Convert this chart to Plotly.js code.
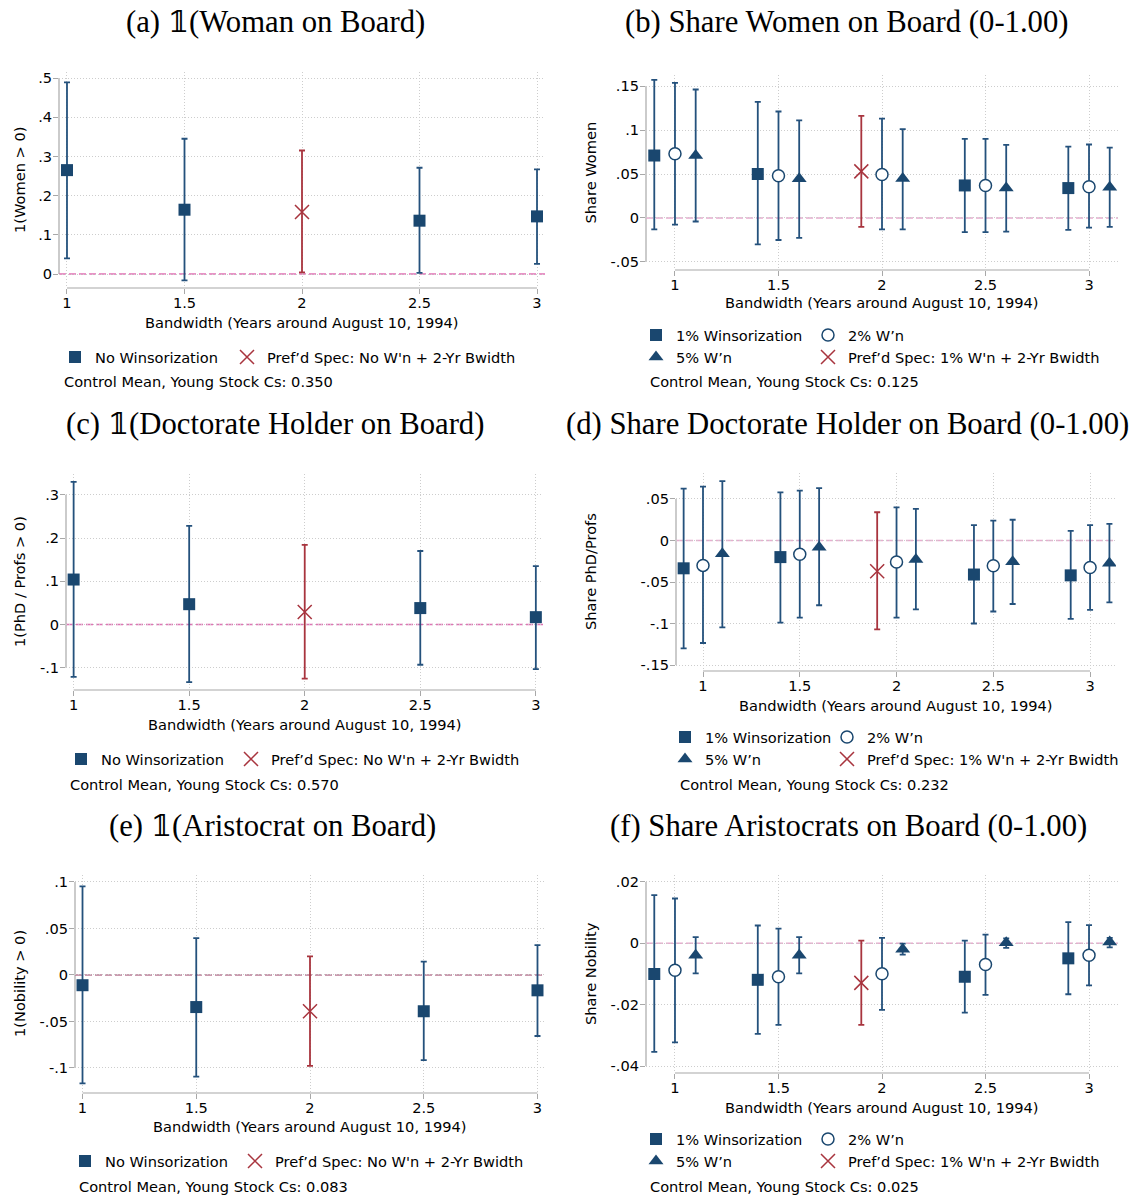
<!DOCTYPE html>
<html><head><meta charset="utf-8">
<script src="https://cdn.plot.ly/plotly-3.0.1.min.js"></script>
<style>html,body{margin:0;padding:0;background:#fff}#chart{width:1129px;height:1199px}</style>
</head><body><div id="chart"></div>
<script>
// ---------------- DATA ----------------
const xTickVals = [1, 1.5, 2, 2.5, 3];
const xTickText = ["1", "1.5", "2", "2.5", "3"];
const xTitle = "Bandwidth (Years around August 10, 1994)";

// x positions of the specifications
const xNoW = [1, 1.5, 2.5, 3];
const xPrefNoW = [2];
const xW1 = [0.9, 1.4, 2.4, 2.9];
const xPrefW1 = [1.9];
const xW2 = [1, 1.5, 2, 2.5, 3];
const xW5 = [1.1, 1.6, 2.1, 2.6, 3.1];

// (a) 1(Woman on Board)
const aYTicks = [0, 0.1, 0.2, 0.3, 0.4, 0.5];
const aYTickText = ["0", ".1", ".2", ".3", ".4", ".5"];
const aNoW = [0.265, 0.164, 0.136, 0.147];
const aNoWLo = [0.040, -0.016, 0.003, 0.026];
const aNoWHi = [0.489, 0.345, 0.271, 0.267];
const aPref = [0.158];
const aPrefLo = [0.004];
const aPrefHi = [0.315];

// (b) Share Women on Board
const bYTicks = [-0.05, 0, 0.05, 0.1, 0.15];
const bYTickText = ["-.05", "0", ".05", ".1", ".15"];
const bW1 = [0.071, 0.050, 0.037, 0.034];
const bW1Lo = [-0.013, -0.030, -0.016, -0.0135];
const bW1Hi = [0.157, 0.132, 0.090, 0.081];
const bPref = [0.053];
const bPrefLo = [-0.010];
const bPrefHi = [0.116];
const bW2 = [0.073, 0.048, 0.0495, 0.037, 0.0355];
const bW2Lo = [-0.0075, -0.025, -0.013, -0.016, -0.011];
const bW2Hi = [0.1535, 0.121, 0.113, 0.090, 0.0835];
const bW5 = [0.071, 0.0445, 0.0450, 0.034, 0.035];
const bW5Lo = [-0.004, -0.0225, -0.013, -0.0155, -0.010];
const bW5Hi = [0.146, 0.111, 0.101, 0.083, 0.080];

// (c) 1(Doctorate Holder on Board)
const cYTicks = [-0.1, 0, 0.1, 0.2, 0.3];
const cYTickText = ["-.1", "0", ".1", ".2", ".3"];
const cNoW = [0.104, 0.047, 0.038, 0.017];
const cNoWLo = [-0.121, -0.133, -0.093, -0.103];
const cNoWHi = [0.330, 0.228, 0.170, 0.135];
const cPref = [0.029];
const cPrefLo = [-0.125];
const cPrefHi = [0.184];

// (d) Share Doctorate Holder on Board
const dYTicks = [-0.15, -0.1, -0.05, 0, 0.05];
const dYTickText = ["-.15", "-.1", "-.05", "0", ".05"];
const dW1 = [-0.0335, -0.020, -0.041, -0.042];
const dW1Lo = [-0.130, -0.099, -0.100, -0.0945];
const dW1Hi = [0.0625, 0.058, 0.0185, 0.0115];
const dPref = [-0.037];
const dPrefLo = [-0.107];
const dPrefHi = [0.034];
const dW2 = [-0.030, -0.0165, -0.026, -0.0305, -0.0325];
const dW2Lo = [-0.1235, -0.093, -0.093, -0.0855, -0.0835];
const dW2Hi = [0.0648, 0.060, 0.040, 0.024, 0.0185];
const dW5 = [-0.016, -0.008, -0.023, -0.0255, -0.0275];
const dW5Lo = [-0.1046, -0.078, -0.083, -0.0765, -0.0745];
const dW5Hi = [0.0716, 0.063, 0.038, 0.025, 0.020];

// (e) 1(Aristocrat on Board)
const eYTicks = [-0.1, -0.05, 0, 0.05, 0.1];
const eYTickText = ["-.1", "-.05", "0", ".05", ".1"];
const eNoW = [-0.011, -0.0345, -0.039, -0.0165];
const eNoWLo = [-0.1166, -0.1094, -0.0916, -0.0656];
const eNoWHi = [0.0952, 0.0396, 0.0143, 0.032];
const ePref = [-0.039];
const ePrefLo = [-0.0977];
const ePrefHi = [0.020];

// (f) Share Aristocrats on Board
const fYTicks = [-0.04, -0.02, 0, 0.02];
const fYTickText = ["-.04", "-.02", "0", ".02"];
const fW1 = [-0.0100, -0.0119, -0.0109, -0.0049];
const fW1Lo = [-0.0354, -0.0295, -0.0226, -0.0166];
const fW1Hi = [0.0157, 0.0058, 0.0009, 0.0069];
const fPref = [-0.0129];
const fPrefLo = [-0.0266];
const fPrefHi = [0.0009];
const fW2 = [-0.0088, -0.0109, -0.0099, -0.0069, -0.0039];
const fW2Lo = [-0.0323, -0.0266, -0.0217, -0.0168, -0.0137];
const fW2Hi = [0.0146, 0.0048, 0.0018, 0.0028, 0.0059];
const fW5 = [-0.0039, -0.0039, -0.0019, 0.0002, 0.0004];
const fW5Lo = [-0.0098, -0.0098, -0.0037, -0.0015, -0.0013];
const fW5Hi = [0.0020, 0.0020, -0.0001, 0.0016, 0.0018];

const refLine = 0;

// labels
const nameNoW = "No Winsorization";
const namePrefNoW = "Pref’d Spec: No W'n + 2-Yr Bwidth";
const nameW1 = "1% Winsorization";
const nameW2 = "2% W’n";
const nameW5 = "5% W’n";
const namePrefW1 = "Pref’d Spec: 1% W'n + 2-Yr Bwidth";

// ---------------- STYLE / GEOMETRY ----------------
const W = 1129, H = 1199;
const NAVY = '#1a476f', BAR = '#24517c', RED = '#a8343e', AXIS = '#a8a8a8', GRID = '#cdcdcd';
const SANS = 'DejaVu Sans, Verdana, sans-serif';
const SERIF = 'Liberation Serif, DejaVu Serif, serif';
const FS = 14.6;
const SYM_OFF = 20;          // legend symbol centre offset from legend box left
const COL_SHIFT = [5, 1];    // leftward shift per key column (balances symbol/text gap)

const markerStyles = {
  sq: {symbol: 'square', size: 12, color: NAVY, line: {width: 0}},
  ci: {symbol: 'circle', size: 12, color: '#ffffff', line: {color: NAVY, width: 1.5}},
  tr: {symbol: 'triangle-up', size: 13, color: NAVY, line: {width: 0}},
  x:  {symbol: 'x-thin', size: 14, color: RED, line: {color: RED, width: 1.5}}
};

const panels = [
  {title: '(a) 𝟙(Woman on Board)', tx: 275, ty: 22, ytitle: '1(Women > 0)', ytx: 19,
   box: {l: 59, r: 545, t: 72, b: 288}, xr: [0.966, 3.034], yr: [-0.0357, 0.5153],
   yt: aYTicks, ytt: aYTickText, zero: '#df72b4', xtY: 321,
   series: [
     {name: nameNoW, kind: 'sq', x: xNoW, y: aNoW, lo: aNoWLo, hi: aNoWHi, col: 0, row: 0},
     {name: namePrefNoW, kind: 'x', x: xPrefNoW, y: aPref, lo: aPrefLo, hi: aPrefHi, col: 1, row: 0}],
   legRows: [357], legX: 80, legSp: 168, ctrl: 'Control Mean, Young Stock Cs: 0.350', cx: 62, cy: 382},
  {title: '(b) Share Women on Board (0-1.00)', tx: 847, ty: 22, ytitle: 'Share Women', ytx: 590,
   box: {l: 646, r: 1118, t: 75, b: 270}, xr: [0.86, 3.14], yr: [-0.0591, 0.1625],
   yt: bYTicks, ytt: bYTickText, zero: '#e6acce', xtY: 302,
   series: [
     {name: nameW1, kind: 'sq', x: xW1, y: bW1, lo: bW1Lo, hi: bW1Hi, col: 0, row: 0},
     {name: nameW2, kind: 'ci', x: xW2, y: bW2, lo: bW2Lo, hi: bW2Hi, col: 1, row: 0},
     {name: nameW5, kind: 'tr', x: xW5, y: bW5, lo: bW5Lo, hi: bW5Hi, col: 0, row: 1},
     {name: namePrefW1, kind: 'x', x: xPrefW1, y: bPref, lo: bPrefLo, hi: bPrefHi, col: 1, row: 1}],
   legRows: [335, 357], legX: 661, legSp: 168, ctrl: 'Control Mean, Young Stock Cs: 0.125', cx: 648, cy: 382},
  {title: '(c) 𝟙(Doctorate Holder on Board)', tx: 275, ty: 424, ytitle: '1(PhD / Profs > 0)', ytx: 19,
   box: {l: 66, r: 543, t: 474, b: 690}, xr: [0.967, 3.031], yr: [-0.1514, 0.348],
   yt: cYTicks, ytt: cYTickText, zero: '#df72b4', xtY: 723,
   series: [
     {name: nameNoW, kind: 'sq', x: xNoW, y: cNoW, lo: cNoWLo, hi: cNoWHi, col: 0, row: 0},
     {name: namePrefNoW, kind: 'x', x: xPrefNoW, y: cPref, lo: cPrefLo, hi: cPrefHi, col: 1, row: 0}],
   legRows: [759], legX: 86, legSp: 166, ctrl: 'Control Mean, Young Stock Cs: 0.570', cx: 68, cy: 784},
  {title: '(d) Share Doctorate Holder on Board (0-1.00)', tx: 847, ty: 424, ytitle: 'Share PhD/Profs', ytx: 590,
   box: {l: 676, r: 1116, t: 473, b: 671}, xr: [0.8605, 3.134], yr: [-0.1572, 0.0813],
   yt: dYTicks, ytt: dYTickText, zero: '#e6acce', xtY: 704,
   series: [
     {name: nameW1, kind: 'sq', x: xW1, y: dW1, lo: dW1Lo, hi: dW1Hi, col: 0, row: 0},
     {name: nameW2, kind: 'ci', x: xW2, y: dW2, lo: dW2Lo, hi: dW2Hi, col: 1, row: 0},
     {name: nameW5, kind: 'tr', x: xW5, y: dW5, lo: dW5Lo, hi: dW5Hi, col: 0, row: 1},
     {name: namePrefW1, kind: 'x', x: xPrefW1, y: dPref, lo: dPrefLo, hi: dPrefHi, col: 1, row: 1}],
   legRows: [737, 759], legX: 690, legSp: 158, ctrl: 'Control Mean, Young Stock Cs: 0.232', cx: 678, cy: 784},
  {title: '(e) 𝟙(Aristocrat on Board)', tx: 272, ty: 826, ytitle: '1(Nobility > 0)', ytx: 19,
   box: {l: 75, r: 545, t: 875, b: 1093}, xr: [0.967, 3.033], yr: [-0.1269, 0.1075],
   yt: eYTicks, ytt: eYTickText, zero: '#b97b95', xtY: 1125,
   series: [
     {name: nameNoW, kind: 'sq', x: xNoW, y: eNoW, lo: eNoWLo, hi: eNoWHi, col: 0, row: 0},
     {name: namePrefNoW, kind: 'x', x: xPrefNoW, y: ePref, lo: ePrefLo, hi: ePrefHi, col: 1, row: 0}],
   legRows: [1161], legX: 90, legSp: 166, ctrl: 'Control Mean, Young Stock Cs: 0.083', cx: 77, cy: 1186},
  {title: '(f) Share Aristocrats on Board (0-1.00)', tx: 848, ty: 826, ytitle: 'Share Nobility', ytx: 590,
   box: {l: 646, r: 1118, t: 875, b: 1073}, xr: [0.86, 3.14], yr: [-0.04225, 0.02225],
   yt: fYTicks, ytt: fYTickText, zero: '#e6acce', xtY: 1106,
   series: [
     {name: nameW1, kind: 'sq', x: xW1, y: fW1, lo: fW1Lo, hi: fW1Hi, col: 0, row: 0},
     {name: nameW2, kind: 'ci', x: xW2, y: fW2, lo: fW2Lo, hi: fW2Hi, col: 1, row: 0},
     {name: nameW5, kind: 'tr', x: xW5, y: fW5, lo: fW5Lo, hi: fW5Hi, col: 0, row: 1},
     {name: namePrefW1, kind: 'x', x: xPrefW1, y: fPref, lo: fPrefLo, hi: fPrefHi, col: 1, row: 1}],
   legRows: [1139, 1161], legX: 661, legSp: 168, ctrl: 'Control Mean, Young Stock Cs: 0.025', cx: 648, cy: 1186}
];

// ---------------- BUILD ----------------
const data = [];
const layout = {
  width: W, height: H, margin: {l: 0, r: 0, t: 0, b: 0},
  paper_bgcolor: '#ffffff', plot_bgcolor: '#ffffff',
  font: {family: SANS, size: FS, color: '#000'},
  shapes: [], annotations: [], showlegend: true
};
let legendCount = 0;
const fx = px => px / W;
const fy = py => 1 - py / H;

panels.forEach((p, i) => {
  const n = i + 1;
  const xa = n === 1 ? 'x' : 'x' + n;
  const ya = n === 1 ? 'y' : 'y' + n;
  const xKey = n === 1 ? 'xaxis' : 'xaxis' + n;
  const yKey = n === 1 ? 'yaxis' : 'yaxis' + n;

  const axCommon = {
    autorange: false, tickmode: 'array',
    ticks: 'outside', ticklen: 5, tickwidth: 1, tickcolor: AXIS,
    showline: false, zeroline: false, showgrid: true, gridcolor: GRID, gridwidth: 1, griddash: '1px,2px',
    tickfont: {family: SANS, size: FS, color: '#000'}, fixedrange: true
  };
  layout[xKey] = Object.assign({}, axCommon, {
    domain: [fx(p.box.l), fx(p.box.r)], anchor: ya, range: p.xr,
    tickvals: xTickVals, ticktext: xTickText, ticklabelstandoff: -4});
  layout[yKey] = Object.assign({}, axCommon, {
    domain: [fy(p.box.b), fy(p.box.t)], anchor: xa, range: p.yr,
    tickvals: p.yt, ticktext: p.ytt, ticklabelstandoff: -2});

  // axis lines spanning the tick range (Stata style)
  layout.shapes.push({type: 'line', layer: 'below', xref: xa, yref: ya + ' domain',
    x0: xTickVals[0], x1: xTickVals[xTickVals.length - 1], y0: 0, y1: 0,
    line: {color: AXIS, width: 1.2}});
  layout.shapes.push({type: 'line', layer: 'below', xref: xa + ' domain', yref: ya,
    x0: 0, x1: 0, y0: p.yt[0], y1: p.yt[p.yt.length - 1],
    line: {color: AXIS, width: 1.2}});
  // reference line at zero
  layout.shapes.push({type: 'line', layer: 'below', xref: xa + ' domain', yref: ya,
    x0: 0, x1: 1, y0: refLine, y1: refLine,
    line: {color: p.zero, width: 1.5, dash: '7px,3px'}});

  p.series.forEach(s => {
    // one legend per entry so that the 2x2 key grid aligns exactly
    legendCount += 1;
    const id = legendCount === 1 ? 'legend' : 'legend' + legendCount;
    layout[id] = {
      x: fx(p.legX + s.col * p.legSp - SYM_OFF - COL_SHIFT[s.col]), y: fy(p.legRows[s.row]),
      xref: 'paper', yref: 'paper', xanchor: 'left', yanchor: 'middle', orientation: 'h',
      bgcolor: 'rgba(0,0,0,0)', borderwidth: 0,
      font: {family: SANS, size: FS, color: '#000'},
      itemwidth: 30, itemclick: false, itemdoubleclick: false
    };
    const col = s.kind === 'x' ? RED : BAR;
    data.push({
      type: 'scatter', mode: 'markers', name: s.name,
      x: s.x, y: s.y, xaxis: xa, yaxis: ya,
      legend: id, showlegend: true,
      marker: markerStyles[s.kind],
      error_y: {type: 'data', symmetric: false,
        array: s.hi.map((h, k) => h - s.y[k]),
        arrayminus: s.y.map((v, k) => v - s.lo[k]),
        color: col, thickness: 1.8, width: 3},
      hoverinfo: 'skip'
    });
  });

  // panel title
  layout.annotations.push({text: p.title, xref: 'paper', yref: 'paper', x: fx(p.tx), y: fy(p.ty),
    xanchor: 'center', yanchor: 'middle', showarrow: false,
    font: {family: SERIF, size: 30.7, color: '#000'}});
  // y axis title
  layout.annotations.push({text: p.ytitle, xref: 'paper', yref: 'paper', x: fx(p.ytx),
    y: fy((p.box.t + p.box.b) / 2), xanchor: 'center', yanchor: 'middle', textangle: -90,
    showarrow: false, font: {family: SANS, size: FS, color: '#000'}});
  // x axis title
  layout.annotations.push({text: xTitle, xref: 'paper', yref: 'paper', x: fx((p.box.l + p.box.r) / 2),
    y: fy(p.xtY + 1), xanchor: 'center', yanchor: 'middle', showarrow: false,
    font: {family: SANS, size: FS, color: '#000'}});
  // control mean note
  layout.annotations.push({text: p.ctrl, xref: 'paper', yref: 'paper', x: fx(p.cx), y: fy(p.cy),
    xanchor: 'left', yanchor: 'middle', showarrow: false,
    font: {family: SANS, size: FS, color: '#000'}});
});

Plotly.newPlot('chart', data, layout, {staticPlot: true, displayModeBar: false});
</script>
</body></html>
